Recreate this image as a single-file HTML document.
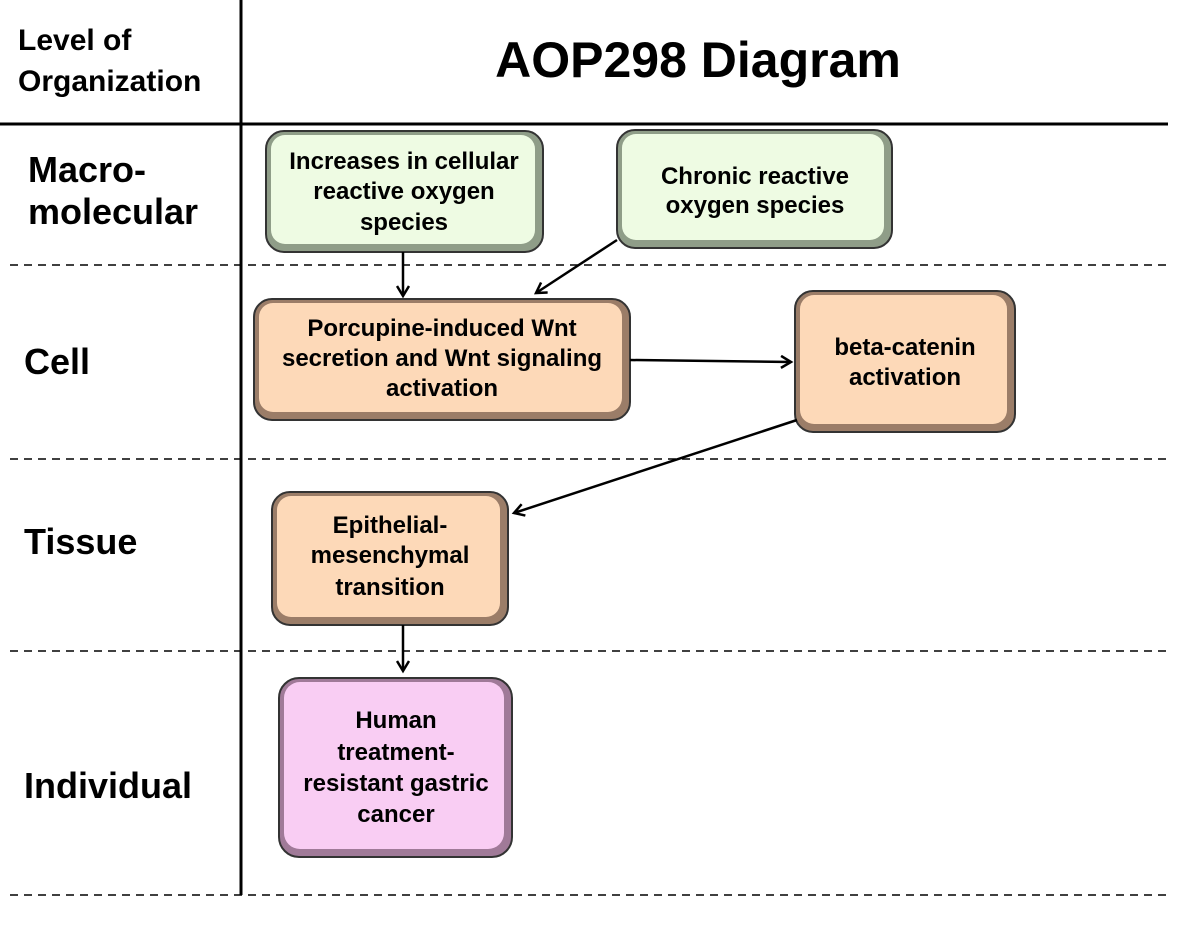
<!DOCTYPE html><html><head><style>body{margin:0;background:#fff}</style></head><body>
<svg width="1200" height="934" viewBox="0 0 1200 934" xmlns="http://www.w3.org/2000/svg" font-family="Liberation Sans, sans-serif" font-weight="bold">
<defs><marker id="a" markerWidth="14" markerHeight="14" refX="11" refY="7" orient="auto" markerUnits="userSpaceOnUse"><path d="M1,1 L11,7 L1,13" fill="none" stroke="#000" stroke-width="2.5"/></marker></defs>
<line x1="241" y1="0" x2="241" y2="895" stroke="#000" stroke-width="3"/>
<line x1="0" y1="124" x2="1168" y2="124" stroke="#000" stroke-width="3"/>
<g stroke="#000" stroke-width="1.5" stroke-dasharray="8,6">
<line x1="10" y1="265" x2="1168" y2="265"/><line x1="10" y1="459" x2="1168" y2="459"/><line x1="10" y1="651" x2="1168" y2="651"/><line x1="10" y1="895" x2="1168" y2="895"/></g>
<g font-size="30" text-anchor="start"><text x="18" y="50">Level of</text><text x="18" y="91">Organization</text></g>
<text x="698" y="77" font-size="50" text-anchor="middle">AOP298 Diagram</text>
<g font-size="36"><text x="28" y="182">Macro-</text><text x="28" y="224">molecular</text><text x="24" y="374">Cell</text><text x="24" y="554">Tissue</text><text x="24" y="798">Individual</text></g>
<g stroke-width="2">
<rect x="266" y="131" width="277" height="121" rx="18" fill="#8f9d88" stroke="#333"/><rect x="271" y="135" width="264" height="109" rx="14" fill="#eefbe3"/>
<rect x="617" y="130" width="275" height="118" rx="18" fill="#8f9d88" stroke="#333"/><rect x="622" y="134" width="262" height="106" rx="14" fill="#eefbe3"/>
<rect x="254" y="299" width="376" height="121" rx="18" fill="#9b7d68" stroke="#333"/><rect x="259" y="303" width="363" height="109" rx="14" fill="#fdd9b8"/>
<rect x="795" y="291" width="220" height="141" rx="18" fill="#9b7d68" stroke="#333"/><rect x="800" y="295" width="207" height="129" rx="14" fill="#fdd9b8"/>
<rect x="272" y="492" width="236" height="133" rx="18" fill="#9b7d68" stroke="#333"/><rect x="277" y="496" width="223" height="121" rx="14" fill="#fdd9b8"/>
<rect x="279" y="678" width="233" height="179" rx="20" fill="#a07a98" stroke="#333"/><rect x="284" y="682" width="220" height="167" rx="16" fill="#f9cdf3"/>
</g>
<g font-size="24" text-anchor="middle">
<text x="404" y="169">Increases in cellular</text><text x="404" y="199">reactive oxygen</text><text x="404" y="230">species</text>
<text x="755" y="184">Chronic reactive</text><text x="755" y="213">oxygen species</text>
<text x="442" y="336">Porcupine-induced Wnt</text><text x="442" y="366">secretion and Wnt signaling</text><text x="442" y="396">activation</text>
<text x="905" y="355">beta-catenin</text><text x="905" y="385">activation</text>
<text x="390" y="533">Epithelial-</text><text x="390" y="563">mesenchymal</text><text x="390" y="595">transition</text>
<text x="396" y="728">Human</text><text x="396" y="760">treatment-</text><text x="396" y="791">resistant gastric</text><text x="396" y="822">cancer</text>
</g>
<g stroke="#000" stroke-width="2.5" marker-end="url(#a)">
<line x1="403" y1="252" x2="403" y2="296"/><line x1="617" y1="240" x2="536" y2="293"/><line x1="630" y1="360" x2="791" y2="362"/><line x1="797" y1="420" x2="514" y2="513"/><line x1="403" y1="625" x2="403" y2="671"/>
</g>
</svg></body></html>
